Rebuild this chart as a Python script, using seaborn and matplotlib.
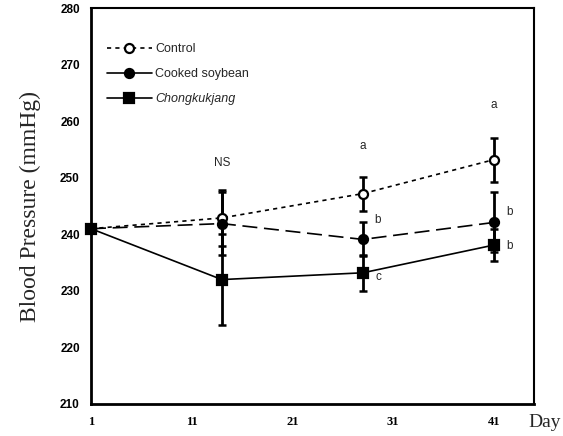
import matplotlib
matplotlib.use("Agg")
import matplotlib.pyplot as plt
import seaborn as sns
import pandas as pd
from matplotlib.lines import Line2D

days = [1, 14, 28, 41]
control = [241.0, 242.9, 247.2, 253.2]
control_err = [0.0, 5.0, 3.0, 3.9]
soybean = [241.0, 241.9, 239.1, 242.1]
soybean_err = [0.0, 5.6, 3.0, 5.3]
chong = [241.0, 232.0, 233.2, 238.1]
chong_err = [0.0, 8.0, 3.2, 2.9]
series_names = ["Control", "Cooked soybean", "Chongkukjang"]
x_ticks = [1, 11, 21, 31, 41]
y_ticks = [210, 220, 230, 240, 250, 260, 270, 280]

# significance letters: (day, y, text)
sig_days = [14, 28, 29.5, 29.5, 41, 42.6, 42.6]
sig_y = [252.6, 255.6, 242.6, 232.5, 262.8, 244.0, 237.9]
sig_text = ["NS", "a", "b", "c", "a", "b", "b"]

sns.set_style("white")
plt.rcParams["font.family"] = ["Liberation Sans", "DejaVu Sans"]

fig = plt.figure(figsize=(5.63, 4.36), dpi=100)
ax = fig.add_axes([0.1616, 0.0734, 0.787, 0.908])

df = pd.DataFrame({
    "Day": days * 3,
    "BP": control + soybean + chong,
    "err": control_err + soybean_err + chong_err,
    "Group": [series_names[0]] * 4 + [series_names[1]] * 4 + [series_names[2]] * 4,
})

styles = {
    "Control": dict(ls=(0, (2.5, 2.5)), marker="o", mfc="white", ms=6.5),
    "Cooked soybean": dict(ls=(0, (9, 4)), marker="o", mfc="black", ms=6.5),
    "Chongkukjang": dict(ls="-", marker="s", mfc="black", ms=6.5),
}

for name in series_names:
    sub = df[df["Group"] == name]
    st = styles[name]
    ax.errorbar(sub["Day"], sub["BP"], yerr=sub["err"], fmt="none",
                ecolor="black", elinewidth=2.0, capsize=3, capthick=1.8,
                zorder=2, clip_on=False)
    sns.lineplot(x=sub["Day"], y=sub["BP"], ax=ax, color="black",
                 linestyle=st["ls"], linewidth=1.2, marker=st["marker"],
                 markersize=st["ms"], markerfacecolor=st["mfc"],
                 markeredgecolor="black", markeredgewidth=1.6,
                 zorder=3, clip_on=False, legend=False)

for d, yv, t in zip(sig_days, sig_y, sig_text):
    ax.text(d, yv, t, ha="center", va="center", fontsize=8.5,
            family="Liberation Sans")

ax.set_xlim(1, 45)
ax.set_ylim(210, 280)
ax.set_xticks(x_ticks)
ax.set_yticks(y_ticks)
ax.set_xticklabels([str(v) for v in x_ticks], fontsize=9,
                   fontweight="bold", family="Liberation Serif")
ax.set_yticklabels([str(v) for v in y_ticks], fontsize=8.5,
                   fontweight="bold")
ax.tick_params(axis="both", direction="in", length=3, width=1,
               color="black", labelcolor="black")
ax.tick_params(axis="x", pad=9)
ax.tick_params(axis="y", pad=8)
ax.set_xlabel("")
ax.set_ylabel("Blood Pressure (mmHg)", fontsize=17, family="Liberation Serif",
              labelpad=14)
fig.text(0.968, 0.032, "Day", fontsize=14, family="Liberation Serif",
         ha="center", va="center")

for side, sp in ax.spines.items():
    sp.set_color("black")
    sp.set_visible(True)
    sp.set_linewidth(2.0 if side in ("left", "bottom") else 1.5)

handles = [
    Line2D([], [], color="black", ls=(0, (2.5, 2.5)), lw=1.2, marker="o",
           mfc="white", mec="black", mew=1.6, ms=6.5),
    Line2D([], [], color="black", ls="-", lw=1.2, marker="o",
           mfc="black", mec="black", mew=1.6, ms=6.5),
    Line2D([], [], color="black", ls="-", lw=1.2, marker="s",
           mfc="black", mec="black", mew=1.6, ms=6.5),
]
leg = ax.legend(handles, series_names, loc="upper left",
                bbox_to_anchor=(0.01, 0.94), frameon=False, fontsize=9,
                handlelength=3.6, labelspacing=1.05, handletextpad=0.3)
leg.get_texts()[2].set_fontstyle("italic")

fig.savefig("out.png", dpi=100)
